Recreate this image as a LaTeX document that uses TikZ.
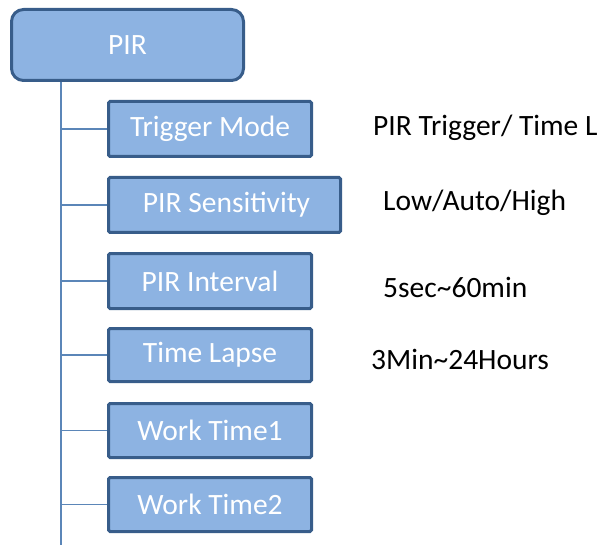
\documentclass[tikz,border=0pt]{standalone}
\usepackage{fontspec}
\setmainfont{Carlito}
\definecolor{boxfill}{HTML}{8DB3E2}
\definecolor{boxedge}{HTML}{385D8A}
\definecolor{linkcol}{HTML}{5B86B8}
\begin{document}
\begin{tikzpicture}[x=1pt,y=-1pt,
  itembox/.style={draw=boxedge, fill=boxfill, line width=3pt, rounded corners=1.5pt,
    text=white, font=\fontsize{29.5}{32}\selectfont, inner sep=0pt, anchor=center},
  rootbox/.style={itembox, rounded corners=12pt},
  link/.style={draw=linkcol, line width=1.2pt},
  valtext/.style={font=\fontsize{29.5}{32}\selectfont, text=black, anchor=west, inner sep=0pt}]
\useasboundingbox (0,0) rectangle (607,545);
\node[rootbox, minimum width=232pt, minimum height=71pt] (pir) at (127.5,45) {PIR};
\node[itembox, minimum width=203pt, minimum height=55pt] (tm) at (210,129) {Trigger Mode};
\node[itembox, minimum width=232pt, minimum height=55pt] (ps) at (224.5,205) {\hspace*{4pt}PIR Sensitivity};
\node[itembox, minimum width=203pt, minimum height=55pt] (pi) at (210,281) {PIR Interval};
\node[itembox, minimum width=203pt, minimum height=53pt] (tl) at (210,355) {Time Lapse};
\node[itembox, minimum width=203pt, minimum height=54pt] (w1) at (210,430.5) {Work Time1};
\node[itembox, minimum width=203pt, minimum height=54pt] (w2) at (210,504.5) {Work Time2};
\coordinate (bot) at (61,545);
\draw[link] (pir.south -| bot) -- (bot);
\foreach \n in {tm,ps,pi,tl,w1,w2} {\draw[link] (\n.west -| bot) -- (\n.west);}
\node[valtext] (v1) at (373,128) {PIR Trigger/ Time L};
\node[valtext] (v2) at (383,203) {Low/Auto/High};
\node[valtext] (v3) at (383,287) {5sec\textasciitilde 60min};
\node[valtext] (v4) at (371,359) {3Min\textasciitilde 24Hours};
\end{tikzpicture}
\end{document}
